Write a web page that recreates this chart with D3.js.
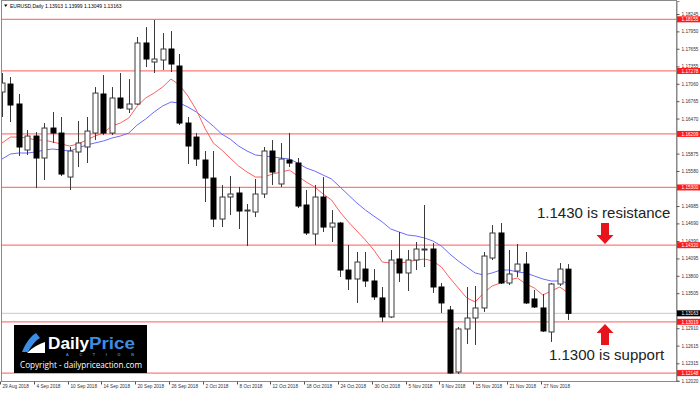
<!DOCTYPE html>
<html>
<head>
<meta charset="utf-8">
<script src="https://cdn.jsdelivr.net/npm/d3@7/dist/d3.min.js"></script>
<style>
  body { margin: 0; background: #fff; }
  svg { display: block; font-family: "Liberation Sans", Arial, sans-serif; }
</style>
</head>
<body>
<div id="chart"></div>
<script>
// EURUSD daily candles, 29 Aug - 30 Nov 2018
const dates = [
  "29 Aug 2018", "30 Aug 2018", "31 Aug 2018",
  "3 Sep 2018", "4 Sep 2018", "5 Sep 2018", "6 Sep 2018", "7 Sep 2018",
  "10 Sep 2018", "11 Sep 2018", "12 Sep 2018", "13 Sep 2018", "14 Sep 2018",
  "17 Sep 2018", "18 Sep 2018", "19 Sep 2018", "20 Sep 2018", "21 Sep 2018",
  "24 Sep 2018", "25 Sep 2018", "26 Sep 2018", "27 Sep 2018", "28 Sep 2018",
  "1 Oct 2018", "2 Oct 2018", "3 Oct 2018", "4 Oct 2018", "5 Oct 2018",
  "8 Oct 2018", "9 Oct 2018", "10 Oct 2018", "11 Oct 2018", "12 Oct 2018",
  "15 Oct 2018", "16 Oct 2018", "17 Oct 2018", "18 Oct 2018", "19 Oct 2018",
  "22 Oct 2018", "23 Oct 2018", "24 Oct 2018", "25 Oct 2018", "26 Oct 2018",
  "29 Oct 2018", "30 Oct 2018", "31 Oct 2018",
  "1 Nov 2018", "2 Nov 2018",
  "5 Nov 2018", "6 Nov 2018", "7 Nov 2018", "8 Nov 2018", "9 Nov 2018",
  "12 Nov 2018", "13 Nov 2018", "14 Nov 2018", "15 Nov 2018", "16 Nov 2018",
  "19 Nov 2018", "20 Nov 2018", "21 Nov 2018", "22 Nov 2018", "23 Nov 2018",
  "26 Nov 2018", "27 Nov 2018", "28 Nov 2018", "29 Nov 2018", "30 Nov 2018"
];

const open = [
  1.16920, 1.17056, 1.16717, 1.15936, 1.16173, 1.15800, 1.16309, 1.16224, 1.15477, 1.15902,
  1.15987, 1.16224, 1.16887, 1.16224, 1.16819, 1.16632, 1.16717, 1.17753, 1.17430, 1.17464,
  1.17651, 1.17362, 1.16394, 1.16156, 1.15766, 1.15460, 1.14764, 1.15138, 1.15206, 1.14900,
  1.14883, 1.15189, 1.15919, 1.15359, 1.15766, 1.15715, 1.15002, 1.14510, 1.15138, 1.14628,
  1.14696, 1.13898, 1.13746, 1.13915, 1.13712, 1.13424, 1.13101, 1.14085, 1.13848, 1.14068,
  1.14238, 1.14255, 1.13610, 1.13220, 1.12167, 1.12897, 1.13084, 1.13254, 1.14102, 1.14527,
  1.13678, 1.13881, 1.14000, 1.13407, 1.13254, 1.12846, 1.13661, 1.13913
];
const high = [
  1.17243, 1.17175, 1.16887, 1.16275, 1.16241, 1.16394, 1.16581, 1.16496, 1.15987, 1.16428,
  1.16496, 1.17005, 1.17209, 1.17005, 1.17243, 1.17141, 1.17854, 1.18024, 1.18143, 1.17922,
  1.17956, 1.17566, 1.16496, 1.16224, 1.15919, 1.15919, 1.15342, 1.15494, 1.15308, 1.15019,
  1.15443, 1.15987, 1.16105, 1.16055, 1.16224, 1.15800, 1.15257, 1.15342, 1.15477, 1.14917,
  1.14714, 1.14323, 1.14204, 1.14204, 1.13915, 1.13610, 1.14238, 1.14544, 1.14238, 1.14374,
  1.15002, 1.14357, 1.13678, 1.13288, 1.12931, 1.13610, 1.13627, 1.14204, 1.14662, 1.14696,
  1.14238, 1.14340, 1.14204, 1.13559, 1.13491, 1.13678, 1.14017, 1.13999
];
const low = [
  1.16496, 1.16411, 1.15834, 1.15851, 1.15291, 1.15427, 1.16055, 1.15494, 1.15257, 1.15647,
  1.15715, 1.16105, 1.16190, 1.16190, 1.16632, 1.16564, 1.16700, 1.17345, 1.17243, 1.17294,
  1.17260, 1.16361, 1.15698, 1.15664, 1.15053, 1.14628, 1.14628, 1.14832, 1.14595, 1.14306,
  1.14798, 1.15121, 1.15342, 1.15308, 1.15647, 1.14951, 1.14493, 1.14323, 1.14544, 1.14374,
  1.13780, 1.13559, 1.13339, 1.13610, 1.13390, 1.13016, 1.13084, 1.13695, 1.13542, 1.13898,
  1.13949, 1.13508, 1.13169, 1.12133, 1.12133, 1.12643, 1.12626, 1.13186, 1.14068, 1.13661,
  1.13644, 1.13780, 1.13322, 1.13254, 1.12846, 1.12677, 1.13627, 1.13049
];
const close = [
  1.17073, 1.16700, 1.15987, 1.16173, 1.15800, 1.16309, 1.16224, 1.15528, 1.15919, 1.16055,
  1.16258, 1.16903, 1.16224, 1.16819, 1.16649, 1.16717, 1.17753, 1.17481, 1.17481, 1.17651,
  1.17396, 1.16394, 1.16004, 1.15783, 1.15460, 1.14764, 1.15138, 1.15189, 1.14900, 1.14917,
  1.15189, 1.15919, 1.15562, 1.15783, 1.15715, 1.14985, 1.14527, 1.15138, 1.14628, 1.14696,
  1.13898, 1.13746, 1.14034, 1.13712, 1.13441, 1.13101, 1.14068, 1.13848, 1.14068, 1.14255,
  1.14255, 1.13610, 1.13339, 1.12150, 1.12897, 1.13084, 1.13254, 1.14136, 1.14527, 1.13678,
  1.13831, 1.14000, 1.13339, 1.13271, 1.12863, 1.13661, 1.13915, 1.13163
];

// moving averages
const maFast = [
  1.16055, 1.16156, 1.16156, 1.16139, 1.16105, 1.16105, 1.16072, 1.16038, 1.16004, 1.16038,
  1.16105, 1.16173, 1.16224, 1.16343, 1.16394, 1.16479, 1.16682, 1.16819, 1.16903, 1.17005,
  1.17141, 1.17039, 1.16853, 1.16615, 1.16309, 1.16055, 1.15936, 1.15800, 1.15664, 1.15562,
  1.15477, 1.15477, 1.15528, 1.15562, 1.15596, 1.15494, 1.15393, 1.15308, 1.15189, 1.15087,
  1.14883, 1.14714, 1.14561, 1.14408, 1.14238, 1.14034, 1.14017, 1.14017, 1.14034, 1.14068,
  1.14085, 1.14051, 1.13949, 1.13763, 1.13593, 1.13424, 1.13356, 1.13508, 1.13627, 1.13678,
  1.13729, 1.13763, 1.13661, 1.13593, 1.13474, 1.13542, 1.13610, 1.13508
];
const maSlow = [
  1.15783, 1.15868, 1.15885, 1.15885, 1.15902, 1.15936, 1.15953, 1.15936, 1.15919, 1.15970,
  1.16021, 1.16055, 1.16089, 1.16139, 1.16173, 1.16224, 1.16361, 1.16462, 1.16581, 1.16682,
  1.16751, 1.16734, 1.16666, 1.16581, 1.16462, 1.16343, 1.16207, 1.16122, 1.16004, 1.15919,
  1.15851, 1.15834, 1.15817, 1.15800, 1.15783, 1.15715, 1.15630, 1.15579, 1.15511, 1.15443,
  1.15308, 1.15172, 1.15036, 1.14917, 1.14815, 1.14714, 1.14595, 1.14544, 1.14493, 1.14476,
  1.14442, 1.14391, 1.14306, 1.14170, 1.14051, 1.13949, 1.13848, 1.13814, 1.13848, 1.13898,
  1.13898, 1.13865, 1.13848, 1.13797, 1.13746, 1.13712, 1.13712, 1.13678
];

const levels = [1.18155, 1.17278, 1.16209, 1.15300, 1.14320, 1.13019, 1.12148];
const lastPrice = 1.13163;

const yTicks = [
  1.18245, 1.17950, 1.17655, 1.17355, 1.17060, 1.16765, 1.16470, 1.16175, 1.15875, 1.15580,
  1.15285, 1.14985, 1.14690, 1.14390, 1.14095, 1.13800, 1.13505, 1.13210, 1.12910, 1.12615,
  1.12315, 1.12020
];
const xTicks = [
  "29 Aug 2018", "4 Sep 2018", "10 Sep 2018", "14 Sep 2018", "20 Sep 2018", "26 Sep 2018",
  "2 Oct 2018", "8 Oct 2018", "12 Oct 2018", "18 Oct 2018", "24 Oct 2018", "30 Oct 2018",
  "5 Nov 2018", "9 Nov 2018", "15 Nov 2018", "21 Nov 2018", "27 Nov 2018"
];

const bars = dates.map((d, i) => ({ date: d, o: open[i], h: high[i], l: low[i], c: close[i] }));

const svgWidth = 700, svgHeight = 393;
const plot = { left: 1, top: 1, right: 676, bottom: 381 };
const step = 8.45;
const smallFont = 4.7;

const svg = d3.select("#chart")
  .append("svg")
  .attr("width", svgWidth)
  .attr("height", svgHeight);

svg.append("rect")
  .attr("width", svgWidth).attr("height", svgHeight)
  .attr("fill", "#fff");

const x = d3.scalePoint()
  .domain(dates)
  .range([plot.left + 1, plot.left + 1 + step * (dates.length - 1)]);

const y = d3.scaleLinear()
  .domain([1.12014, 1.18466])
  .range([plot.bottom, plot.top]);

svg.append("clipPath").attr("id", "plotClip")
  .append("rect")
  .attr("x", plot.left).attr("y", plot.top)
  .attr("width", plot.right - plot.left).attr("height", plot.bottom - plot.top);

const g = svg.append("g").attr("clip-path", "url(#plotClip)");

// current price line
g.append("line")
  .attr("x1", plot.left).attr("x2", plot.right)
  .attr("y1", y(lastPrice)).attr("y2", y(lastPrice))
  .attr("stroke", "#c8c8c8").attr("stroke-width", 1);

// horizontal levels
g.selectAll(".level")
  .data(levels)
  .enter()
  .append("line")
  .attr("class", "level")
  .attr("x1", plot.left).attr("x2", plot.right)
  .attr("y1", d => y(d)).attr("y2", d => y(d))
  .attr("stroke", "#ff7b7b").attr("stroke-width", 1.3);

// moving averages
const maLine = d3.line()
  .x((d, i) => x(dates[i]))
  .y(d => y(d));

g.append("path").datum(maSlow)
  .attr("d", maLine).attr("fill", "none")
  .attr("stroke", "#6b6bff").attr("stroke-width", 1);
g.append("path").datum(maFast)
  .attr("d", maLine).attr("fill", "none")
  .attr("stroke", "#ff5f5f").attr("stroke-width", 1);

// candles
const bodyW = 5;
const candle = g.selectAll(".candle")
  .data(bars)
  .enter()
  .append("g")
  .attr("class", "candle");

candle.append("line")
  .attr("x1", d => Math.round(x(d.date)) + 0.5)
  .attr("x2", d => Math.round(x(d.date)) + 0.5)
  .attr("y1", d => y(d.h)).attr("y2", d => y(d.l))
  .attr("stroke", "#3a3a3a").attr("stroke-width", 1);

candle.append("rect")
  .attr("x", d => Math.round(x(d.date)) - 2)
  .attr("y", d => y(Math.max(d.o, d.c)))
  .attr("width", bodyW)
  .attr("height", d => Math.max(1, Math.abs(y(d.o) - y(d.c))))
  .attr("fill", d => d.c >= d.o ? "#fff" : "#000")
  .attr("stroke", d => d.c >= d.o ? "#3a3a3a" : "#000")
  .attr("stroke-width", 1);

// frame
svg.append("rect")
  .attr("x", plot.left + 0.5).attr("y", plot.top - 0.5)
  .attr("width", plot.right - plot.left).attr("height", plot.bottom - plot.top + 1)
  .attr("fill", "none").attr("stroke", "#8a8a8a").attr("stroke-width", 1);

// right price axis; labels sitting right under a price tag are hidden by it, as in MT4
const tagValues = levels.concat([lastPrice]);
const visibleTicks = yTicks.filter(t => d3.min(tagValues, v => Math.abs(y(v) - y(t))) >= 4);
const yAxis = svg.append("g")
  .attr("transform", "translate(" + (plot.right + 0.5) + ",0)")
  .call(d3.axisRight(y).tickValues(visibleTicks).tickSize(3).tickPadding(2).tickFormat(d3.format(".5f")));
yAxis.select(".domain").attr("stroke", "#8a8a8a");
yAxis.selectAll(".tick line").attr("stroke", "#555");
yAxis.selectAll("text")
  .attr("font-size", smallFont).attr("fill", "#333")
  .attr("font-family", "'Liberation Sans', Arial, sans-serif");

// level labels
const tag = svg.selectAll(".tag")
  .data(levels.map(v => ({ v: v, bg: "#ff1a1a" })).concat([{ v: lastPrice, bg: "#000" }]))
  .enter()
  .append("g")
  .attr("class", "tag")
  .attr("transform", d => "translate(" + (plot.right + 1) + "," + y(d.v) + ")");
tag.append("rect")
  .attr("x", 0).attr("y", -3)
  .attr("width", 24).attr("height", 6)
  .attr("fill", d => d.bg);
tag.append("text")
  .attr("x", 4.5).attr("y", 1.7)
  .attr("font-size", smallFont).attr("fill", "#fff")
  .text(d => d.v.toFixed(5));

// bottom date axis
const xAxis = svg.append("g")
  .attr("transform", "translate(0," + (plot.bottom + 0.5) + ")");
const xt = xAxis.selectAll(".xt")
  .data(xTicks)
  .enter()
  .append("g")
  .attr("transform", d => "translate(" + (Math.round(x(d)) - 1.5) + ",0)");
xt.append("line")
  .attr("y1", 0).attr("y2", 3)
  .attr("stroke", "#555");
xt.append("text")
  .attr("x", 2).attr("y", 6.5)
  .attr("font-size", smallFont).attr("fill", "#333")
  .text(d => d);

// header
svg.append("path")
  .attr("d", "M4,4.5 L7.5,4.5 L5.75,7 Z")
  .attr("fill", "#000");
svg.append("text")
  .attr("x", 10).attr("y", 7.8)
  .attr("font-size", 5).attr("fill", "#000")
  .text("EURUSD,Daily  1.13913 1.13999 1.13049 1.13163");

// annotations
svg.append("text")
  .attr("x", 537).attr("y", 218)
  .attr("font-size", 15).attr("fill", "#222")
  .text("1.1430 is resistance");
svg.append("text")
  .attr("x", 549).attr("y", 360)
  .attr("font-size", 15).attr("fill", "#222")
  .text("1.1300 is support");

const arrowDown = "M-4,0 L4,0 L4,12 L8.5,12 L0,21 L-8.5,12 L-4,12 Z";
svg.append("path")
  .attr("d", arrowDown)
  .attr("transform", "translate(605,223)")
  .attr("fill", "#e8141b");
svg.append("path")
  .attr("d", arrowDown)
  .attr("transform", "translate(605,345) scale(1,-1)")
  .attr("fill", "#e8141b");

// logo
const logo = svg.append("g").attr("transform", "translate(14,325)");
logo.append("rect")
  .attr("width", 133).attr("height", 48)
  .attr("fill", "#000");
logo.append("path")
  .attr("d", "M8,27 C12,17 17,11 22,8 L26,13 C21,16 17,21 14,27 Z")
  .attr("fill", "#3b8ee6");
logo.append("path")
  .attr("d", "M13,28 C19,22 25,19 31,17 L31,28 Z")
  .attr("fill", "#fff");
logo.append("text")
  .attr("x", 34).attr("y", 24)
  .attr("font-size", 16).attr("font-weight", "bold").attr("fill", "#fff")
  .attr("textLength", 41).attr("lengthAdjust", "spacingAndGlyphs")
  .text("Daily");
logo.append("text")
  .attr("x", 75).attr("y", 24)
  .attr("font-size", 16).attr("font-weight", "bold").attr("fill", "#3b8ee6")
  .attr("textLength", 46).attr("lengthAdjust", "spacingAndGlyphs")
  .text("Price");
logo.append("text")
  .attr("x", 52).attr("y", 30.5)
  .attr("font-size", 3.8).attr("font-weight", "bold").attr("fill", "#3b8ee6")
  .attr("textLength", 68).attr("lengthAdjust", "spacing")
  .text("ACTION");
logo.append("text")
  .attr("x", 6).attr("y", 43)
  .attr("font-size", 9.5).attr("fill", "#fff")
  .attr("font-family", "'Open Sans', sans-serif")
  .attr("textLength", 122).attr("lengthAdjust", "spacingAndGlyphs")
  .text("Copyright - dailypriceaction.com");
</script>
</body>
</html>
